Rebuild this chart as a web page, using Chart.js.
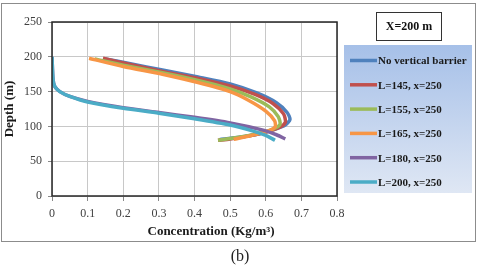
<!DOCTYPE html>
<html>
<head>
<meta charset="utf-8">
<script src="https://cdn.jsdelivr.net/npm/chart.js@4.4.1/dist/chart.umd.min.js"></script>
<style>
  html, body { margin: 0; padding: 0; background: #fff; }
  #wrap { width: 480px; height: 270px; position: relative; }
</style>
</head>
<body>
<div id="wrap"><canvas id="chart" width="480" height="270"></canvas></div>
<script>
// series labels and colours
const seriesNames = ['No vertical barrier', 'L=145, x=250', 'L=155, x=250', 'L=165, x=250', 'L=180, x=250', 'L=200, x=250'];
const seriesColors = ['#4f81bd', '#c0504d', '#9bbb59', '#f79646', '#8064a2', '#4bacc6'];

// concentration (Kg/m3) and depth (m)
const noBarrierConc  = [0.15, 0.22, 0.31, 0.41, 0.50, 0.575, 0.63, 0.66, 0.668, 0.655, 0.62, 0.58, 0.52, 0.47];
const noBarrierDepth = [197, 190, 181, 171, 161, 148, 134, 120, 110, 102, 95, 89, 84, 81];
const l145Conc  = [0.143, 0.22, 0.31, 0.41, 0.50, 0.57, 0.62, 0.65, 0.655, 0.64, 0.60, 0.55, 0.50, 0.466];
const l145Depth = [198, 189, 179, 169, 158, 146, 133, 118, 106, 99, 92, 86, 82, 80];
const l155Conc  = [0.12, 0.20, 0.31, 0.41, 0.50, 0.56, 0.61, 0.635, 0.64, 0.62, 0.58, 0.52, 0.466];
const l155Depth = [197, 188, 177, 166, 154, 142, 128, 114, 103, 96, 90, 84, 80];
const l165Conc  = [0.104, 0.20, 0.31, 0.41, 0.50, 0.55, 0.60, 0.625, 0.626, 0.60, 0.56, 0.51];
const l165Depth = [198, 186, 175, 163, 150, 138, 122, 108, 99, 92, 87, 81.5];
const l180Conc  = [0, 0.003, 0.008, 0.022, 0.05, 0.10, 0.20, 0.30, 0.40, 0.50, 0.59, 0.63, 0.655];
const l180Depth = [200, 167, 157, 150, 143, 136, 127, 120, 113, 105, 95, 88, 82];
const l200Conc  = [0, 0.003, 0.008, 0.022, 0.05, 0.10, 0.20, 0.30, 0.40, 0.50, 0.56, 0.60, 0.626];
const l200Depth = [200, 167, 157, 150, 143, 135, 126, 119, 111, 102, 94, 87, 80];

const xTicks = [0, 0.1, 0.2, 0.3, 0.4, 0.5, 0.6, 0.7, 0.8];
const yTicks = [0, 50, 100, 150, 200, 250];

const allConc = [noBarrierConc, l145Conc, l155Conc, l165Conc, l180Conc, l200Conc];
const allDepth = [noBarrierDepth, l145Depth, l155Depth, l165Depth, l180Depth, l200Depth];

const datasets = seriesNames.map((name, i) => ({
    label: name,
    data: allConc[i].map((x, j) => ({ x, y: allDepth[i][j] })),
    borderColor: seriesColors[i],
    backgroundColor: seriesColors[i],
    borderWidth: 3.5,
    pointRadius: 0,
    showLine: true,
    tension: 0.25,
    order: seriesNames.length - i
}));

const serif = "'Liberation Serif', 'Times New Roman', serif";

// frame, plot border, legend box, x title and caption
const decorPlugin = {
    id: 'decor',
    beforeDraw(chart) {
        const c = chart.ctx;
        c.save();
        c.fillStyle = '#fff';
        c.fillRect(0, 0, chart.width, chart.height);
        c.strokeStyle = '#8c8c8c';
        c.lineWidth = 1;
        c.strokeRect(1.5, 3.5, 474, 238);
        c.restore();
    },
    afterDraw(chart) {
        const c = chart.ctx;
        const a = chart.chartArea;
        c.save();
        c.strokeStyle = '#262626';
        c.lineWidth = 1.5;
        c.strokeRect(a.left, a.top, a.right - a.left, a.bottom - a.top);

        // title box
        c.fillStyle = '#fff';
        c.fillRect(376.5, 12.5, 65, 28);
        c.strokeStyle = '#333';
        c.lineWidth = 1;
        c.strokeRect(376.5, 12.5, 65, 28);
        c.fillStyle = '#111';
        c.font = 'bold 12px ' + serif;
        c.textAlign = 'center';
        c.textBaseline = 'middle';
        c.fillText('X=200 m', 409, 27);

        // legend with gradient
        const g = c.createLinearGradient(0, 45, 0, 193);
        g.addColorStop(0, '#a6c0e8');
        g.addColorStop(1, '#dfe7f4');
        c.fillStyle = g;
        c.fillRect(344, 45, 128, 148);
        c.textAlign = 'left';
        c.font = 'bold 11px ' + serif;
        chart.data.datasets.forEach((ds, i) => {
            const y = 60.5 + i * 24.3;
            c.strokeStyle = ds.borderColor;
            c.lineWidth = 3.5;
            c.beginPath();
            c.moveTo(350, y);
            c.lineTo(377, y);
            c.stroke();
            c.fillStyle = '#1a1a1a';
            c.fillText(ds.label, 378, y + 1);
        });

        // x axis title
        c.fillStyle = '#1a1a1a';
        c.font = 'bold 13px ' + serif;
        c.textAlign = 'center';
        c.fillText('Concentration (Kg/m³)', 211, 232);

        // caption
        c.font = '16px ' + serif;
        c.fillStyle = '#222';
        c.fillText('(b)', 240, 257);
        c.restore();
    }
};

const ctx = document.getElementById('chart').getContext('2d');
const chart = new Chart(ctx, {
    type: 'scatter',
    data: { datasets },
    options: {
        responsive: false,
        animation: false,
        layout: { padding: { left: 2, top: 22, right: 143, bottom: 30 } },
        plugins: {
            legend: { display: false },
            tooltip: { enabled: false }
        },
        scales: {
            x: {
                type: 'linear',
                min: 0,
                max: 0.8,
                afterBuildTicks: s => { s.ticks = xTicks.map(v => ({ value: v })); },
                afterFit: s => { s.height = 44; },
                ticks: {
                    color: '#404040',
                    font: { family: serif, size: 12 },
                    padding: 6,
                    maxRotation: 0,
                    callback: v => String(v)
                },
                grid: { color: '#c8c8c8', lineWidth: 1, tickLength: 5, tickColor: '#888' },
                border: { display: false }
            },
            y: {
                type: 'linear',
                min: 0,
                max: 250,
                afterBuildTicks: s => { s.ticks = yTicks.map(v => ({ value: v })); },
                afterFit: s => { s.width = 50; },
                ticks: {
                    color: '#404040',
                    font: { family: serif, size: 12 },
                    padding: 6
                },
                title: {
                    display: true,
                    text: 'Depth (m)',
                    color: '#1a1a1a',
                    font: { family: serif, size: 13, weight: 'bold' },
                    padding: { top: 0, bottom: 2 }
                },
                grid: { color: '#c8c8c8', lineWidth: 1, tickLength: 4, tickColor: '#888' },
                border: { display: false }
            }
        }
    },
    plugins: [decorPlugin]
});
</script>
</body>
</html>
